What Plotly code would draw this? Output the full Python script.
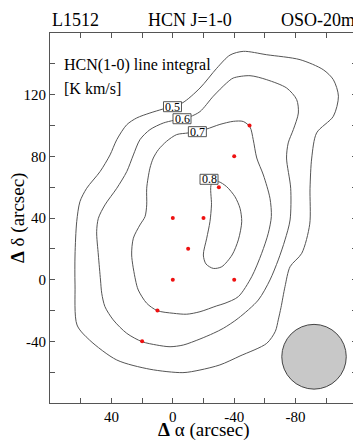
import plotly.graph_objects as go

# ---------------- data ----------------
contour_levels = ["0.5", "0.6", "0.7", "0.8"]

c05_ra = [-6.0, -17.7, -28.6, -37.3, -45.9, -61.2, -82.9, -98.0, -104.6, -107.9, -104.6, -93.7,
          -90.5, -89.4, -89.2, -84.0, -76.4, -73.1, -70.5, -68.7, -66.8, -61.2, -43.8, -30.7,
          -17.7, -6.6, 14.9, 36.5, 54.2, 62.4, 63.7, 63.7, 62.6, 60.5, 56.1, 47.4, 40.9, 36.5,
          30.0, 23.5, 14.9, 6.4]
c05_dec = [114.5, 124.3, 137.1, 145.7, 148.1, 145.9, 142.7, 136.2, 129.7, 119.0, 106.0, 95.2,
           78.9, 59.3, 36.0, 17.1, 8.4, -4.5, -18.0, -26.1, -33.5, -41.3, -49.5, -55.3,
           -58.6, -60.3, -58.1, -52.1, -39.2, -29.4, -3.4, 16.0, 37.6, 50.6, 59.3, 70.1, 80.9,
           90.8, 100.5, 104.9, 108.1, 110.7]

c06_ra = [-11.2, -17.7, -26.4, -35.1, -39.4, -50.3, -61.2, -74.2, -80.7, -81.8, -78.5, -75.2,
          -74.1, -76.8, -76.4, -73.1, -68.7, -63.3, -55.7, -42.7, -33.0, -26.4, -17.7, -6.8,
          1.8, 10.5, 20.1, 30.0, 38.8, 44.2, 46.3, 47.1, 48.5, 49.6, 48.5, 44.2, 36.5, 30.0,
          25.7, 21.4, 14.9, 6.2, -0.8]
c06_dec = [105.7, 109.0, 119.0, 127.6, 130.8, 132.3, 129.7, 124.3, 116.8, 108.1, 97.3, 88.7,
           78.9, 59.3, 38.7, 25.8, 12.8, -0.2, -13.2, -25.0, -31.5, -34.8, -38.5, -42.4,
           -43.5, -42.4, -40.2, -34.8, -26.1, -17.5, -8.8, -0.2, 16.0, 31.1, 39.8, 48.5, 59.3,
           70.1, 80.9, 90.8, 97.3, 101.6, 103.4]

c07_ra = [-21.6, -30.7, -39.4, -45.9, -50.3, -52.4, -54.7, -59.0, -63.3, -64.2, -62.2, -57.9,
          -51.4, -42.7, -34.0, -28.6, -17.7, -9.1, -0.3, 10.1, 17.0, 22.5, 24.3, 26.8, 25.7,
          21.4, 18.1, 17.0, 17.0, 14.9, 12.7, 9.4, 4.0, -2.5, -10.1]
c07_dec = [97.6, 100.7, 102.7, 102.6, 99.0, 90.8, 78.9, 67.9, 52.8, 41.0, 30.1, 17.1,
           1.9, -11.0, -15.3, -17.0, -20.8, -22.4, -21.8, -20.1, -15.3, -6.7, -0.2, 16.0, 26.9,
           35.5, 40.9, 48.5, 59.3, 72.3, 78.9, 84.3, 89.8, 94.1, 95.2]

c08_ra = [-29.6, -35.1, -40.5, -43.8, -44.9, -42.7, -38.6, -31.9, -26.4, -21.6, -19.9, -22.1,
          -24.2, -25.2, -25.2]
c08_dec = [63.6, 60.3, 53.8, 46.3, 37.6, 25.8, 16.0, 8.4, 7.3, 10.2, 16.0, 26.9,
           37.6, 48.5, 62.1]

label_ra = [0.2, -6.0, -16.0, -23.6]
label_dec = [112.2, 104.4, 96.0, 65.1]

obs_ra = [0, -20, -10, 0, -40, 10, 20, -40, -50, -30]
obs_dec = [40, 40, 20, 0, 0, -20, -40, 80, 100, 60]

beam_ra = -92
beam_dec = -50
beam_fwhm = 42

x_tickvals = [60, 40, 20, 0, -20, -40, -60, -80, -100]
x_ticktext = ["", "40", "", "0", "", "-40", "", "-80", ""]
y_tickvals = [-60, -40, -20, 0, 20, 40, 60, 80, 100, 120, 140]
y_ticktext = ["", "-40", "", "0", "", "40", "", "80", "", "120", ""]

# ---------------- figure ----------------
FONT = "Liberation Serif"
LINE = "#555555"

fig = go.Figure()
contours = [(c05_ra, c05_dec), (c06_ra, c06_dec), (c07_ra, c07_dec), (c08_ra, c08_dec)]
for xs, ys in contours:
    fig.add_trace(go.Scatter(
        x=xs + [xs[0]], y=ys + [ys[0]], mode="lines",
        line=dict(color=LINE, width=1, shape="spline", smoothing=0.8),
        hoverinfo="skip", showlegend=False))

fig.add_trace(go.Scatter(
    x=obs_ra, y=obs_dec, mode="markers",
    marker=dict(color="#ee1111", size=4),
    showlegend=False))

shapes = []
annotations = []
for t, lx, ly in zip(contour_levels, label_ra, label_dec):
    shapes.append(dict(type="rect", xref="x", yref="y", xsizemode="pixel", ysizemode="pixel",
                       xanchor=lx, yanchor=ly, x0=-9, x1=9, y0=-5, y1=5,
                       fillcolor="white", line=dict(color=LINE, width=1), layer="above"))
    annotations.append(dict(x=lx, y=ly, xref="x", yref="y", text=t, showarrow=False,
                            font=dict(family=FONT, size=12, color="black"),
                            xanchor="center", yanchor="middle"))

r = beam_fwhm / 2
shapes.append(dict(type="circle", xref="x", yref="y",
                   x0=beam_ra - r, x1=beam_ra + r, y0=beam_dec - r, y1=beam_dec + r,
                   fillcolor="#c8c8c8", line=dict(color="#444444", width=1), layer="above"))

# titles and labels
annotations += [
    dict(x=0, y=1.035, xref="paper", yref="paper", text="L1512", showarrow=False,
         xanchor="left", yanchor="middle", font=dict(family=FONT, size=18, color="black")),
    dict(x=0.456, y=1.035, xref="paper", yref="paper", text="HCN J=1-0", showarrow=False,
         xanchor="center", yanchor="middle", font=dict(family=FONT, size=18, color="black")),
    dict(x=1.0, y=1.035, xref="paper", yref="paper", text="OSO-20m", showarrow=False,
         xanchor="right", yanchor="middle", font=dict(family=FONT, size=18, color="black")),
    dict(x=0.039, y=0.9135, xref="paper", yref="paper", text="HCN(1-0) line integral",
         showarrow=False, xanchor="left", yanchor="middle",
         font=dict(family=FONT, size=16, color="black")),
    dict(x=0.039, y=0.851, xref="paper", yref="paper", text="[K km/s]",
         showarrow=False, xanchor="left", yanchor="middle",
         font=dict(family=FONT, size=16, color="black")),
    dict(x=0.5, y=-0.073, xref="paper", yref="paper", text="<b>Δ</b> α (arcsec)",
         showarrow=False, xanchor="center", yanchor="middle",
         font=dict(family=FONT, size=19, color="black")),
    dict(x=-0.104, y=0.5, xref="paper", yref="paper", text="<b>Δ</b> δ (arcsec)",
         showarrow=False, xanchor="center", yanchor="middle", textangle=-90,
         font=dict(family=FONT, size=19, color="black")),
]

axis_common = dict(showgrid=False, zeroline=False, showline=True, linecolor=LINE, linewidth=1,
                   mirror="allticks", ticks="inside", ticklen=5, tickcolor=LINE,
                   tickfont=dict(family=FONT, size=15, color="black"), tickmode="array")

# the page adds an 8 px body margin, so the figure is sized to fit inside it
fig.update_layout(
    width=353, height=433,
    margin=dict(l=42, r=4, t=25, b=38),
    paper_bgcolor="white", plot_bgcolor="white",
    xaxis=dict(range=[80, -120], tickvals=x_tickvals, ticktext=x_ticktext, **axis_common),
    yaxis=dict(range=[-80, 160], tickvals=y_tickvals, ticktext=y_ticktext, **axis_common),
    shapes=shapes, annotations=annotations, showlegend=False,
)

fig.write_html("out.html")
